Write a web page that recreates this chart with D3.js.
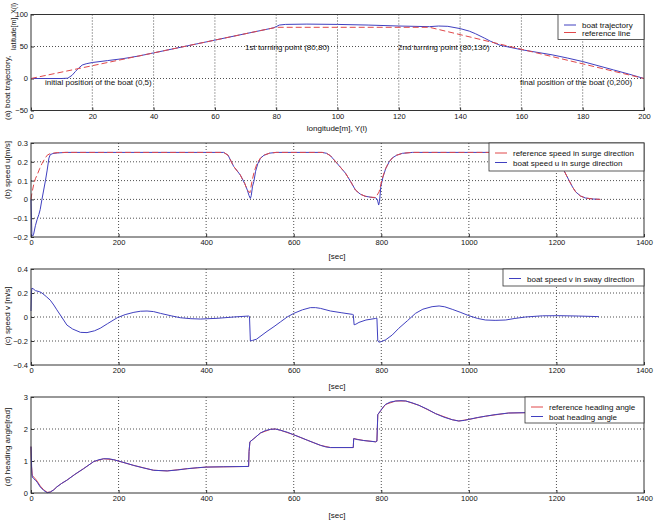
<!DOCTYPE html>
<html>
<head>
<meta charset="utf-8">
<script src="https://cdn.jsdelivr.net/npm/d3@7"></script>
<style>
body{margin:0;background:#fff;}
svg text{font-family:"Liberation Sans",Arial,sans-serif;fill:#111;}
</style>
</head>
<body>
<div id="chart-area"></div>
<script>

// (a) trajectory, [longitude Y, latitude X]
var boatPath = [[0,0],[5,0],[10,0],[12,0.5],[13.4,5],[14.5,11],[15.5,16],[16.7,21],[18,23],[20,25],[25,28],[30,31],
  [35,35],[40,40],[50,50],[60,60],[70,70],[79,79],[80,81],[81,83.5],[83,84.5],[90,85],[100,84.5],[110,83.5],
  [120,82],[130,81],[133,82],[136,81.5],[140,78],[143,74],[145,70],[148,63],[150,58],[153,52],[155,50],[160,45],
  [165,41],[170,37],[175,32],[180,26.5],[185,20],[190,13.5],[195,7],[200,0]];
var refPath = [[0,0],[80,80],[130,80],[200,0]];

// (b) surge speed u, [t, u]
var uRef = [[0,0],[2,0.033],[6,0.077],[10,0.11],[14,0.13],[20,0.165],[25,0.19],[31,0.215],[37,0.235],[44,0.244],
  [60,0.249],[80,0.25],[440,0.25],[450,0.235],[463,0.175],[478,0.13],[488,0.085],[494,0.05],[500,0.035],[505,0.1],
  [510,0.15],[516,0.19],[524,0.22],[532,0.235],[545,0.246],[560,0.25],[665,0.25],[675,0.245],[684,0.232],[696,0.2],
  [707,0.17],[718,0.14],[730,0.095],[741,0.05],[752,0.028],[763,0.017],[775,0.012],[787,0.01],[795,0.04],[802,0.11],
  [810,0.165],[818,0.2],[825,0.22],[835,0.235],[848,0.245],[871,0.25],[1190,0.25],[1200,0.235],[1210,0.19],
  [1218,0.15],[1229,0.1],[1237,0.065],[1244,0.04],[1255,0.018],[1267,0.007],[1285,0.002],[1300,0]];
var uBoat = [[0,0],[2,-0.19],[4,-0.195],[6,-0.185],[10,-0.14],[14,-0.107],[18,-0.08],[21,-0.054],[25,0],[29,0.05],
  [33,0.1],[37,0.156],[41,0.22],[44,0.238],[50,0.244],[60,0.247],[80,0.25],[440,0.25],[450,0.235],[463,0.175],
  [478,0.13],[488,0.085],[494,0.05],[498,0.02],[501,0.005],[503,0.02],[506,0.07],[509,0.095],[513,0.15],[518,0.19],
  [524,0.218],[532,0.235],[545,0.246],[560,0.25],[665,0.25],[675,0.245],[684,0.232],[696,0.2],[707,0.17],[718,0.14],
  [730,0.095],[741,0.05],[752,0.028],[763,0.017],[775,0.012],[787,0.008],[791,0],[794,-0.03],[796,-0.01],[799,0.07],
  [804,0.12],[810,0.163],[818,0.2],[825,0.22],[835,0.235],[848,0.245],[871,0.25],[1190,0.25],[1200,0.235],
  [1210,0.19],[1218,0.15],[1229,0.1],[1237,0.065],[1244,0.04],[1255,0.018],[1267,0.007],[1285,0.002],[1300,0]];

// (c) sway speed v, [t, v]
var vBoat = [[0,0.05],[1,0.2],[2,0.24],[5,0.235],[10,0.22],[20,0.21],[25,0.2],[35,0.17],[44,0.14],[52,0.1],[59,0.06],
  [70,0],[82,-0.067],[95,-0.1],[113,-0.128],[128,-0.13],[145,-0.115],[158,-0.094],[175,-0.055],[197,-0.006],
  [215,0.02],[235,0.039],[250,0.048],[265,0.05],[280,0.045],[296,0.03],[320,0.01],[341,-0.006],[365,-0.014],
  [387,-0.017],[425,-0.011],[463,0],[497,0.008],[499,0.005],[501,-0.2],[506,-0.195],[515,-0.185],[539,-0.12],
  [555,-0.08],[570,-0.04],[585,0],[600,0.03],[620,0.06],[638,0.078],[650,0.078],[661,0.072],[684,0.05],[710,0.035],
  [734,0.022],[736,0.02],[738,-0.065],[742,-0.06],[749,-0.045],[765,-0.025],[787,-0.012],[790,-0.01],[792,-0.2],
  [795,-0.21],[800,-0.205],[810,-0.19],[825,-0.15],[840,-0.094],[860,-0.03],[878,0.03],[895,0.065],[916,0.086],
  [932,0.092],[945,0.085],[962,0.064],[980,0.04],[1000,0.011],[1020,-0.012],[1038,-0.025],[1060,-0.028],
  [1084,-0.025],[1105,-0.012],[1129,0],[1168,0.01],[1206,0.011],[1250,0.008],[1297,0.003]];

// (d) heading angle, [t, rad]
var headRef = [[0,1.45],[1,0.85],[3,0.55],[6,0.5],[10,0.44],[14,0.37],[21,0.22],[29,0.1],[37,0.02],[44,0.03],
  [52,0.1],[59,0.19],[70,0.3],[82,0.4],[100,0.58],[120,0.76],[143,0.98],[166,1.07],[189,1.04],[235,0.86],[280,0.71],
  [311,0.69],[357,0.76],[400,0.81],[497,0.83],[498,1.3],[500,1.6],[509,1.7],[524,1.875],[547,1.99],[558,2.0],
  [570,1.96],[600,1.82],[631,1.65],[661,1.49],[684,1.42],[736,1.42],[737,1.7],[760,1.64],[787,1.6],[790,1.62],
  [792,2.45],[799,2.58],[810,2.77],[833,2.875],[856,2.875],[886,2.74],[924,2.48],[962,2.29],[977,2.25],[1000,2.3],
  [1038,2.4],[1091,2.5],[1130,2.51],[1200,2.53],[1300,2.55]];
var headBoat = [[0,1.45],[1,1.0],[2,0.6],[3,0.5],[6,0.45],[10,0.4],[14,0.34],[21,0.19],[29,0.08],[37,0.01],[44,0.03],
  [52,0.1],[59,0.19],[70,0.3],[82,0.4],[100,0.58],[120,0.76],[143,0.98],[155,1.04],[166,1.07],[178,1.07],[189,1.04],
  [210,0.96],[235,0.86],[258,0.78],[280,0.71],[311,0.69],[335,0.72],[357,0.76],[380,0.79],[400,0.81],[440,0.82],
  [497,0.83],[498,1.3],[500,1.6],[509,1.7],[524,1.875],[535,1.95],[547,1.99],[558,2.0],[570,1.96],[585,1.9],
  [600,1.82],[615,1.74],[631,1.65],[646,1.57],[661,1.49],[673,1.44],[684,1.42],[736,1.42],[737,1.7],[745,1.67],
  [760,1.64],[787,1.6],[790,1.62],[792,2.45],[799,2.58],[805,2.7],[810,2.77],[820,2.84],[833,2.875],[845,2.885],
  [856,2.875],[870,2.82],[886,2.74],[905,2.62],[924,2.48],[943,2.37],[962,2.29],[977,2.25],[990,2.27],[1000,2.3],
  [1020,2.36],[1038,2.4],[1060,2.45],[1091,2.5],[1130,2.51],[1200,2.53],[1300,2.55]];

// ticks
var trajXTicks = [0,20,40,60,80,100,120,140,160,180,200];
var trajYTicks = [-50,0,50,100];
var timeTicks = [0,200,400,600,800,1000,1200,1400];
var uTicks = [-0.2,-0.1,0,0.1,0.2,0.3];
var vTicks = [-0.4,-0.2,0,0.2,0.4];
var headTicks = [0,1,2,3];

var blue = '#4040c0', red = '#e0484a';

var svg = d3.select('#chart-area').append('svg')
            .attr("width",654)
            .attr("height",525);

var left = 31, right = 644;

function panel(cfg){
  var x = d3.scaleLinear().domain(cfg.xDomain).range([left,right]);
  var y = d3.scaleLinear().domain(cfg.yDomain).range([cfg.bottom,cfg.top]);
  var g = svg.append('g');

  g.append('rect').attr('x',left).attr('y',cfg.top)
   .attr('width',right-left).attr('height',cfg.bottom-cfg.top).attr('fill','#fff');

  // dotted grid
  g.selectAll('.vg').data(cfg.xTicks.slice(1,-1)).enter().append('line')
   .attr('x1',d => x(d)).attr('x2',d => x(d)).attr('y1',cfg.top).attr('y2',cfg.bottom)
   .attr('stroke','#222').attr('stroke-width',0.8).attr('stroke-dasharray','1,2');
  g.selectAll('.hg').data(cfg.yTicks.slice(1,-1)).enter().append('line')
   .attr('y1',d => y(d)).attr('y2',d => y(d)).attr('x1',left).attr('x2',right)
   .attr('stroke','#222').attr('stroke-width',0.8).attr('stroke-dasharray','1,2');

  var xAxis = d3.axisBottom(x).tickValues(cfg.xTicks).tickSize(-3).tickPadding(3).tickFormat(d3.format('d'));
  var yAxis = d3.axisLeft(y).tickValues(cfg.yTicks).tickSize(-3).tickPadding(3).tickFormat(cfg.yFormat);

  var xa = g.append('g').attr("transform","translate(0,"+cfg.bottom+")").call(xAxis);
  var ya = g.append('g').attr("transform","translate("+left+",0)").call(yAxis);
  [xa,ya].forEach(function(a){
    a.select('.domain').remove();
    a.selectAll('text').attr('font-size','7.5px').attr('font-family','"Liberation Sans",Arial,sans-serif');
    a.selectAll('line').attr('stroke','#333');
  });

  var line = d3.line().x(d => x(d[0])).y(d => y(d[1]));
  cfg.series.forEach(function(s){
    g.append('path').datum(s.data).attr('d',line).attr('fill','none')
     .attr('stroke',s.color).attr('stroke-width',1)
     .attr('stroke-dasharray',s.dash ? '6,3' : null);
  });

  g.append('rect').attr('x',left).attr('y',cfg.top)
   .attr('width',right-left).attr('height',cfg.bottom-cfg.top)
   .attr('fill','none').attr('stroke','#333').attr('stroke-width',1);

  // legend
  var lg = cfg.legend;
  g.append('rect').attr('x',lg.x).attr('y',cfg.top).attr('width',right-lg.x).attr('height',lg.h)
   .attr('fill','#fff').attr('stroke','#333').attr('stroke-width',0.8);
  lg.items.forEach(function(it,i){
    var yy = cfg.top + lg.y0 + i*lg.dy;
    g.append('line').attr('x1',lg.x+6).attr('x2',lg.x+18).attr('y1',yy).attr('y2',yy)
     .attr('stroke',it.color).attr('stroke-width',1);
    g.append('text').attr('x',lg.x+24).attr('y',yy+3).attr('font-size','8px').text(it.label);
  });

  return g;
}

var fmt1 = d3.format('d');
var fmtDec = function(d){ return d === 0 ? '0' : d3.format('.1f')(d); };

panel({top:14.5,bottom:110.5,xDomain:[0,200],yDomain:[-50,100],xTicks:trajXTicks,yTicks:trajYTicks,yFormat:fmt1,
  series:[{data:boatPath,color:blue},{data:refPath,color:red,dash:true}],
  legend:{x:558,h:25,y0:10.5,dy:7.5,items:[{label:'boat trajectory',color:blue},{label:'reference line',color:red}]}});

panel({top:143,bottom:237,xDomain:[0,1400],yDomain:[-0.2,0.3],xTicks:timeTicks,yTicks:uTicks,yFormat:fmtDec,
  series:[{data:uBoat,color:blue},{data:uRef,color:red,dash:true}],
  legend:{x:489,h:28,y0:10,dy:9.5,items:[{label:'reference speed in surge direction',color:red},{label:'boat speed u in surge direction',color:blue}]}});

panel({top:269,bottom:365,xDomain:[0,1400],yDomain:[-0.4,0.4],xTicks:timeTicks,yTicks:vTicks,yFormat:fmtDec,
  series:[{data:vBoat,color:blue}],
  legend:{x:503,h:17,y0:9.5,dy:0,items:[{label:'boat speed v in sway direction',color:blue}]}});

panel({top:397,bottom:493,xDomain:[0,1400],yDomain:[0,3],xTicks:timeTicks,yTicks:headTicks,yFormat:fmt1,
  series:[{data:headRef,color:red},{data:headBoat,color:blue}],
  legend:{x:525,h:26,y0:10,dy:9.5,items:[{label:'reference heading angle',color:red},{label:'boat heading angle',color:blue}]}});

// annotations on the trajectory
var notes = [
  {t:'initial position of the boat (0,5)', x:45, y:85},
  {t:'1st turning point (80,80)', x:245, y:50},
  {t:'2nd turning point (80,130)', x:398, y:50},
  {t:'final position of the boat (0,200)', x:520, y:85}
];
svg.selectAll('.note').data(notes).enter().append('text')
   .attr('x',d => d.x).attr('y',d => d.y).attr('font-size','8px').text(d => d.t);

// axis titles
svg.append('text').attr('x',337).attr('y',131).attr('text-anchor','middle').attr('font-size','8px').text('longitude[m], Y(l)');
[259,389,518].forEach(function(yy){
  svg.append('text').attr('x',337).attr('y',yy).attr('text-anchor','middle').attr('font-size','8px').text('[sec]');
});

function ylab(txt,x,y,anchor,size){
  svg.append('text').attr('transform','translate('+x+','+y+') rotate(-90)')
     .attr('text-anchor',anchor||'middle').attr('font-size',(size||8)+'px').text(txt);
}
ylab('(a) boat trajectory,',9.5,120,'start');
ylab('latitude[m], X(l)',16,50,'start',7);
ylab('(b) speed u[m/s]',9.5,170);
ylab('(c) speed v [m/s]',9.5,316);
ylab('(d) heading angle[rad]',9.5,447);

</script>
</body>
</html>
